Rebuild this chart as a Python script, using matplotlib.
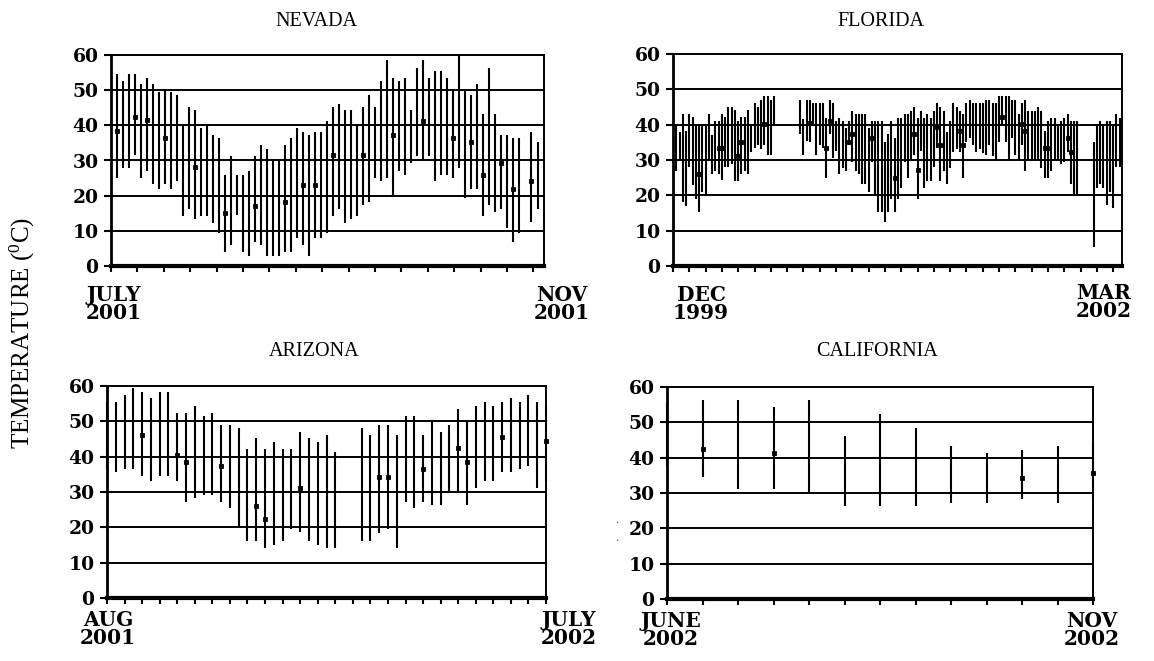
import numpy as np
import matplotlib
matplotlib.use("Agg")
import matplotlib.pyplot as plt

nan = np.nan

# ---------------- data: temperature range (high / low) and sample points ----------------
NV_HI = [54.5, 52.6, 54.5, 54.5, 51.7, 53.6, 51.7, 49.6, 50.2, 49.6, 48.6,
         40.0, 45.2, 44.3, 39.3, 40.0, 37.2, 36.3,
         25.8, 31.3, 25.8, 25.8, 27.0, 31.3, 34.4, 33.2, 30.1, 30.1, 34.4, 36.3, 39.1, 38.2, 37.2, 38.2, 38.2,
         41.2, 45.2, 46.2, 44.3, 44.3, 40.0, 45.2, 48.6, 45.2, 52.6, 58.6, 53.6, 52.6, 53.6, 44.3, 56.4,
         58.6, 53.6, 55.5, 55.5, 53.6, 50.4, 60.0, 50.4, 48.6, 51.7, 43.1, 56.4, 43.1, 37.2, 37.2, 36.3, 36.3,
         nan, 38.2, 35.4]
NV_LO = [25.1, 28.0, 28.0, 31.5, 25.1, 27.0, 23.2, 22.0, 23.2, 22.0, 24.1,
         14.2, 16.1, 13.3, 14.2, 14.2, 12.3, 9.5,
         4.0, 5.9, 14.6, 4.0, 2.8, 6.8, 5.9, 2.8, 2.8, 2.8, 4.0, 4.0, 8.0, 5.9, 2.8, 8.0, 8.0,
         9.5, 14.2, 16.1, 12.3, 13.3, 14.2, 17.3, 18.2, 25.1, 24.1, 25.1, 19.8, 27.0, 26.0, 29.4, 31.3,
         30.1, 31.3, 24.1, 26.0, 26.0, 25.1, 27.9, 19.2, 22.0, 22.0, 14.2, 17.3, 15.4, 16.3, 10.8, 6.8, 9.5,
         nan, 12.5, 16.3]
NV_DOT_IDX = [0, 3, 5, 8, 13, 18, 23, 28, 31, 33, 36, 41, 46, 51, 56, 59, 61, 64, 66, 69]
NV_DOT_VAL = [38.4, 42.4, 41.4, 36.4, 28.2, 15.2, 17.1, 18.2, 23.0, 23.0,
              31.5, 31.5, 37.2, 41.2, 36.3, 35.3, 26.0, 29.2, 22.0, 24.3]

FL_HI = [40.0, 38.0, 43.1, 38.1, 43.1, 42.2, 39.5, 40.0, 40.0, 40.0,
         43.1, 37.1, 41.0, 41.1, 43.1, 42.2, 45.0, 45.0, 44.1, 41.1,
         42.2, 42.2, 44.1, 40.0, 46.0, 45.0, 47.0, 48.1, 48.1, 47.0,
         48.1, nan, nan, nan, nan, nan, nan, nan, 47.0, 41.6,
         47.0, 47.0, 46.0, 46.0, 46.0, 46.0, 42.0, 47.0, 46.0, 41.0,
         42.0, 41.0, 39.0, 41.0, 43.9, 43.0, 43.0, 43.0, 43.0, 39.0,
         41.0, 41.0, 41.0, 41.0, 35.2, 37.3, 41.0, 36.1, 42.0, 42.0,
         43.0, 43.0, 44.0, 45.0, 42.0, 43.9, 42.0, 43.0, 42.0, 44.0,
         46.0, 45.0, 43.9, 38.0, 41.0, 46.0, 45.0, 43.9, 43.0, 46.0,
         47.0, 46.0, 46.0, 46.0, 46.0, 47.0, 47.0, 46.0, 46.0, 48.0,
         48.0, 48.0, 48.0, 47.0, 47.0, 43.0, 46.0, 47.0, 43.9, 44.0,
         43.9, 45.0, 43.9, 38.2, 41.0, 42.0, 42.0, 40.0, 41.0, 42.0,
         43.0, 41.0, 41.0, 41.0, nan, nan, nan, nan, 35.2, 40.0,
         41.0, 40.0, 41.0, 41.0, 40.0, 43.0, 42.0]
FL_LO = [26.9, 30.0, 18.1, 17.1, 28.1, 22.9, 19.0, 15.2, 21.0, 20.0,
         30.2, 25.9, 27.0, 25.9, 24.3, 28.1, 28.1, 29.0, 24.0, 24.0,
         25.9, 26.9, 25.9, 32.4, 33.3, 34.3, 33.0, 34.3, 31.4, 31.4,
         40.0, nan, nan, nan, nan, nan, nan, nan, 37.3, 31.4,
         35.5, 35.2, 40.0, 31.4, 34.2, 33.3, 25.0, 37.3, 30.5, 32.5,
         25.9, 27.8, 26.9, 34.2, 29.5, 26.9, 25.9, 23.1, 23.1, 21.0,
         29.5, 20.0, 15.3, 15.3, 12.5, 15.3, 19.1, 15.3, 19.1, 22.0,
         29.5, 25.0, 30.0, 31.4, 19.1, 32.5, 22.0, 24.0, 24.0, 28.0,
         33.3, 24.0, 26.9, 23.1, 27.8, 32.4, 33.0, 32.4, 25.0, 35.2,
         36.1, 34.2, 32.4, 33.0, 32.0, 31.4, 34.2, 31.0, 30.0, 35.2,
         40.1, 35.0, 30.0, 36.3, 31.4, 30.0, 34.2, 26.9, 30.0, 30.0,
         30.0, 30.0, 27.8, 25.0, 25.0, 26.9, 30.0, 30.0, 29.0, 29.3,
         32.4, 23.1, 19.8, 19.8, nan, nan, nan, nan, 5.4, 22.0,
         23.1, 22.0, 17.2, 21.0, 16.3, 28.1, 28.1]
FL_DOT_IDX = [7, 13, 14, 19, 20, 27, 41, 46, 47, 53, 54, 60, 67, 73, 74, 80, 81, 87, 88,
              100, 106, 107, 113, 114, 120, 121]
FL_DOT_VAL = [25.9, 33.3, 33.3, 31.2, 35.2, 40.3, 40.4, 33.3, 41.0, 35.2, 37.3, 36.3, 25.0,
              37.3, 27.2, 39.2, 34.2, 38.2, 34.2, 42.2, 40.3, 38.2, 33.3, 33.3, 36.3, 32.4]

AZ_HI = [55.4, 55.4, 57.5, 59.3, 58.4, 56.5, 58.4, 58.4, 52.5, 52.5,
         54.4, 51.6, 52.5, 49.1, 49.1, 48.1, 42.2, 45.2, 42.2, 44.2,
         42.2, 42.2, 47.1, 45.2, 44.2, 46.1, 41.2, nan, nan,
         48.1, 46.1, 49.1, 49.1, 46.1, 51.6, 51.6, 46.1, 49.9, 47.1,
         49.1, 53.5, 49.9, 54.4, 55.4, 54.4, 55.4, 56.5, 55.4, 57.5, 55.4, 54.4]
AZ_LO = [36.5, 35.6, 36.5, 36.5, 34.6, 33.2, 34.6, 34.6, 33.2, 27.3,
         28.2, 29.2, 29.2, 27.3, 25.4, 20.0, 16.2, 16.2, 14.2, 15.1,
         16.2, 19.5, 18.6, 16.2, 15.1, 14.2, 14.2, nan, nan,
         16.0, 16.0, 18.4, 19.5, 14.2, 27.3, 25.4, 27.3, 26.3, 26.3,
         29.9, 29.9, 26.3, 31.0, 33.0, 33.0, 35.6, 35.6, 36.5, 37.5, 31.0, 33.0]
AZ_DOT_IDX = [4, 8, 9, 13, 17, 18, 22, 31, 32, 36, 40, 41, 45, 50]
AZ_DOT_VAL = [46.2, 40.6, 38.4, 37.5, 26.1, 22.4, 31.1, 34.3, 34.3, 36.5, 42.5, 38.4, 45.5, 44.3]

CA_HI = [55.5, 56.4, 56.4, 54.4, 56.4, 46.2, 52.5, 48.3, 43.3, 41.2, 42.3, 43.3, 44.2]
CA_LO = [37.6, 34.6, 31.0, 31.0, 29.9, 26.3, 26.3, 26.3, 27.3, 27.3, 28.2, 27.3, 28.2]
CA_DOT_IDX = [1, 3, 10, 12]
CA_DOT_VAL = [42.4, 41.4, 34.3, 35.6]

Y_TICKS = [0, 10, 20, 30, 40, 50, 60]

# ---------------- figure ----------------
W, H = 1154, 661
SERIF = ["Liberation Serif", "DejaVu Serif"]
WIDE = ["DejaVu Serif"]
plt.rcParams["font.family"] = SERIF
plt.rcParams["mathtext.fontset"] = "custom"
plt.rcParams["mathtext.rm"] = "Liberation Serif"

fig = plt.figure(figsize=(W / 100, H / 100), dpi=100)
fig.patch.set_facecolor("white")


def px_axes(left, top, right, bottom):
    return fig.add_axes([left / W, 1 - bottom / H, (right - left) / W, (bottom - top) / H])


def panel(ax, x, hi, lo, dot_idx, dot_val, xlim, xticks):
    x = np.asarray(x, dtype=float)
    ax.set_xlim(*xlim)
    ax.set_ylim(0, 60)
    for v in Y_TICKS[1:-1]:
        ax.axhline(v, color="black", lw=1.4, zorder=1)
    ax.vlines(x, lo, hi, colors="black", lw=1.5, zorder=3, clip_on=False)
    ax.plot(x[dot_idx], dot_val, ls="none", marker="s", ms=2.2, mew=0.6,
            mfc="black", mec="black", zorder=4, clip_on=False)
    ax.set_yticks(Y_TICKS)
    ax.set_yticklabels([str(v) for v in Y_TICKS], fontsize=13.5,
                       fontweight="bold", family=WIDE)
    ax.set_xticks(xticks)
    ax.set_xticklabels([])
    ax.tick_params(axis="x", direction="out", length=4, width=1.5)
    ax.tick_params(axis="y", direction="out", length=5, width=1.5, pad=4)
    ax.spines["left"].set_linewidth(2.0)
    ax.spines["bottom"].set_linewidth(3.0)
    ax.spines["top"].set_linewidth(1.4)
    ax.spines["right"].set_linewidth(1.4)
    ax.set_facecolor("white")


# Nevada
ax_nv = px_axes(111, 55, 544, 266)
nv_x = np.arange(len(NV_HI))
panel(ax_nv, nv_x, NV_HI, NV_LO, NV_DOT_IDX, NV_DOT_VAL,
      (-0.92, 71.08), np.arange(-0.92, 71.1, 4.39))

# Florida
ax_fl = px_axes(673, 54, 1122, 266)
fl_x = np.arange(1, len(FL_HI) + 1)
panel(ax_fl, fl_x, FL_HI, FL_LO, FL_DOT_IDX, FL_DOT_VAL,
      (0, 137.7), np.arange(0, 137.7, 5))

# Arizona
ax_az = px_axes(107, 386, 546, 598)
az_x = np.arange(len(AZ_HI))
panel(ax_az, az_x, AZ_HI, AZ_LO, AZ_DOT_IDX, AZ_DOT_VAL,
      (0, len(AZ_HI) - 1), np.arange(0, len(AZ_HI), 2))

# California
ax_ca = px_axes(667, 387, 1093, 599)
ca_x = np.arange(len(CA_HI))
panel(ax_ca, ca_x, CA_HI, CA_LO, CA_DOT_IDX, CA_DOT_VAL,
      (0, len(CA_HI) - 1), np.arange(len(CA_HI)))


def ftext(x, y, s, **kw):
    fig.text(x / W, 1 - y / H, s, **kw)


# panel titles
for (x, y, s) in [(316, 22, "NEVADA"), (881, 22, "FLORIDA"),
                  (314, 352, "ARIZONA"), (877, 352, "CALIFORNIA")]:
    ftext(x, y, s, ha="center", va="center", fontsize=14.5)

# start / end labels under each time axis
for (x, y, s) in [(114, 304, "JULY\n2001"), (562, 304, "NOV\n2001"),
                  (701, 304, "DEC\n1999"), (1104, 302, "MAR\n2002"),
                  (108, 629, "AUG\n2001"), (569, 629, "JULY\n2002"),
                  (671, 630, "JUNE\n2002"), (1092, 630, "NOV\n2002")]:
    ftext(x, y, s, ha="center", va="center", fontsize=14.5, fontweight="bold",
          family=WIDE, linespacing=0.92)

ftext(22, 333, r"TEMPERATURE ($\mathregular{^0}$C)", ha="center", va="center",
      rotation=90, fontsize=18)
for y in (520, 538):
    ftext(617, y, ".", ha="center", va="center", fontsize=9, color="0.35")

fig.savefig("out.png", dpi=100, facecolor="white")
